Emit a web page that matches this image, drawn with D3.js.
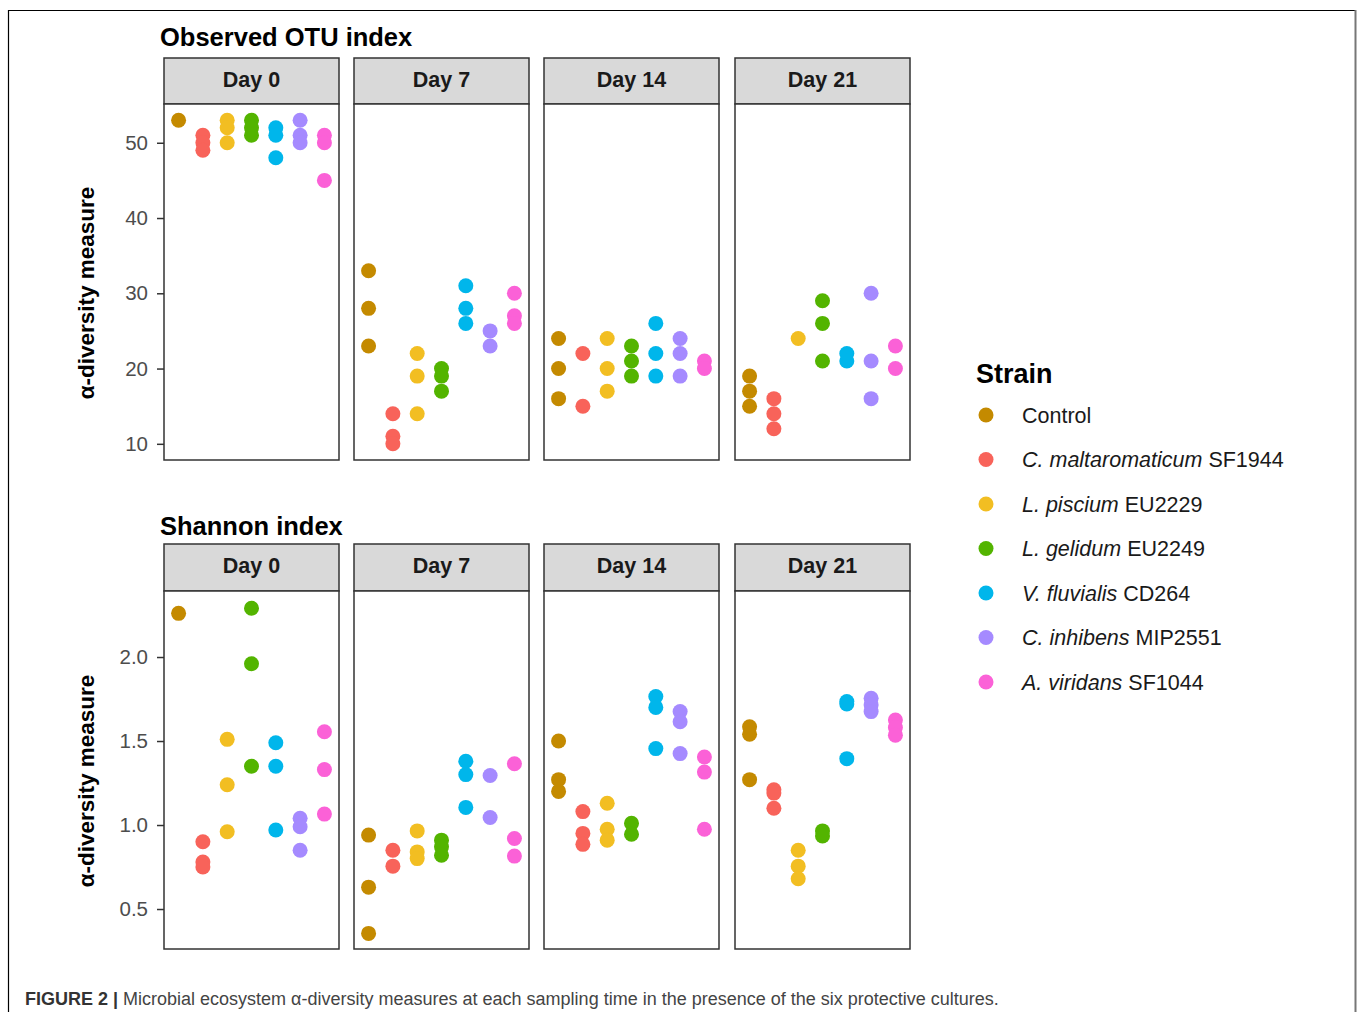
<!DOCTYPE html>
<html><head><meta charset="utf-8">
<script src="https://cdn.jsdelivr.net/npm/d3@7/dist/d3.min.js"></script>
<style>body{margin:0;background:#fff;}svg{display:block;font-family:"Liberation Sans",Arial,Helvetica,sans-serif;}</style>
</head><body>
<svg id="chart" width="1358" height="1012"></svg>
<script>
const days = ["Day 0", "Day 7", "Day 14", "Day 21"];
const strains = ["Control", "C. maltaromaticum SF1944", "L. piscium EU2229", "L. gelidum EU2249", "V. fluvialis CD264", "C. inhibens MIP2551", "A. viridans SF1044"];
const strainItalic = ["", "C. maltaromaticum", "L. piscium", "L. gelidum", "V. fluvialis", "C. inhibens", "A. viridans"];
const strainPlain = ["Control", " SF1944", " EU2229", " EU2249", " CD264", " MIP2551", " SF1044"];
const strainColors = ["#C48A00", "#F8635A", "#F2BE22", "#53B400", "#00B6EB", "#A58AFF", "#FB61D7"];

// Observed OTU index, per day: one array per strain
const otuDay0  = [[53], [51, 50, 49], [53, 52, 50], [53, 52, 51], [52, 51, 48], [53, 51, 50], [51, 50, 45]];
const otuDay7  = [[33, 28, 23], [14, 11, 10], [22, 19, 14], [20, 19, 17], [31, 28, 26], [25, 23], [30, 27, 26]];
const otuDay14 = [[24, 20, 16], [22, 15], [24, 20, 17], [23, 21, 19], [26, 22, 19], [24, 22, 19], [21, 20]];
const otuDay21 = [[19, 17, 15], [16, 14, 12], [24], [29, 26, 21], [22, 21], [30, 21, 16], [23, 20]];

// Shannon index, per day: one array per strain
const shDay0  = [[2.26], [0.90, 0.78, 0.75], [1.51, 1.24, 0.96], [2.29, 1.96, 1.35], [1.49, 1.35, 0.97], [1.04, 0.99, 0.85], [1.555, 1.33, 1.065]];
const shDay7  = [[0.94, 0.63, 0.355], [0.85, 0.755], [0.965, 0.84, 0.80], [0.91, 0.87, 0.82], [1.38, 1.30, 1.105], [1.295, 1.045], [1.365, 0.92, 0.815]];
const shDay14 = [[1.50, 1.27, 1.20], [1.08, 0.95, 0.885], [1.13, 0.975, 0.91], [1.01, 0.945], [1.765, 1.70, 1.455], [1.675, 1.615, 1.425], [1.405, 1.315, 0.975]];
const shDay21 = [[1.585, 1.54, 1.27], [1.21, 1.19, 1.10], [0.85, 0.755, 0.68], [0.965, 0.935], [1.735, 1.72, 1.395], [1.755, 1.715, 1.675], [1.625, 1.58, 1.535]];

const otuTicks = [10, 20, 30, 40, 50];
const shTicks = [0.5, 1.0, 1.5, 2.0];

const svg = d3.select("#chart");

// outer frame
svg.append("path").attr("d", "M8.5,1012 V10.5 H1355").attr("fill", "none").attr("stroke", "#000").attr("stroke-width", 1.2);
svg.append("line").attr("x1", 1355.5).attr("x2", 1355.5).attr("y1", 10).attr("y2", 1012).attr("stroke", "#777").attr("stroke-width", 2);

const panelLefts = [164, 354, 544, 735];
const panelW = 175;

function drawSection(cfg) {
  const g = svg.append("g");
  const y = d3.scaleLinear().domain(cfg.domain).range([cfg.bottom, cfg.top]);
  // title
  g.append("text").attr("x", 160).attr("y", cfg.titleY).attr("font-size", 25.5).attr("font-weight", "bold").attr("fill", "#000").text(cfg.title);
  // y-axis title
  g.append("text").attr("transform", `translate(94,${(cfg.top + cfg.bottom) / 2 + 11}) rotate(-90)`)
    .attr("text-anchor", "middle").attr("font-size", 22.5).attr("font-weight", "bold").attr("fill", "#000").text("α-diversity measure");
  // axis
  const axis = d3.axisLeft(y).tickValues(cfg.ticks).tickSize(7).tickPadding(9).tickFormat(cfg.fmt);
  const ag = g.append("g").attr("transform", `translate(${panelLefts[0]},0)`).call(axis);
  ag.select(".domain").remove();
  ag.selectAll(".tick line").attr("stroke", "#333").attr("stroke-width", 1.5);
  ag.selectAll(".tick text").attr("font-size", 20.5).attr("fill", "#4d4d4d").attr("font-family", "'Liberation Sans',Arial,sans-serif");

  days.forEach((d, i) => {
    const x0 = panelLefts[i];
    const x = d3.scalePoint().domain(strains).range([x0, x0 + panelW]).padding(0.6);
    // strip
    g.append("rect").attr("x", x0).attr("y", cfg.stripTop).attr("width", panelW).attr("height", cfg.top - cfg.stripTop)
      .attr("fill", "#d9d9d9").attr("stroke", "#333").attr("stroke-width", 1.5);
    g.append("text").attr("x", x0 + panelW / 2).attr("y", cfg.stripTop + 28.5).attr("text-anchor", "middle")
      .attr("font-size", 21.5).attr("font-weight", "bold").attr("fill", "#1a1a1a").text(d);
    // panel
    g.append("rect").attr("x", x0).attr("y", cfg.top).attr("width", panelW).attr("height", cfg.bottom - cfg.top)
      .attr("fill", "#fff").attr("stroke", "#333").attr("stroke-width", 1.5);
    const pts = [];
    cfg.data[i].forEach((vals, s) => vals.forEach(v => pts.push({ s, v })));
    g.append("g").selectAll("circle").data(pts).join("circle")
      .attr("cx", p => x(strains[p.s])).attr("cy", p => y(p.v)).attr("r", 7.5)
      .attr("fill", p => strainColors[p.s]);
  });
}

drawSection({
  title: "Observed OTU index", titleY: 46, stripTop: 58, top: 104, bottom: 460,
  domain: [7.85, 55.15], ticks: otuTicks, fmt: d3.format("d"),
  data: [otuDay0, otuDay7, otuDay14, otuDay21]
});
drawSection({
  title: "Shannon index", titleY: 535, stripTop: 544, top: 591, bottom: 949,
  domain: [0.262, 2.393], ticks: shTicks, fmt: d3.format(".1f"),
  data: [shDay0, shDay7, shDay14, shDay21]
});

// legend
const lg = svg.append("g");
lg.append("text").attr("x", 976).attr("y", 383).attr("font-size", 27).attr("font-weight", "bold").attr("fill", "#000").text("Strain");
strains.forEach((s, i) => {
  const cy = 415 + i * 44.5;
  lg.append("circle").attr("cx", 986).attr("cy", cy).attr("r", 7.5).attr("fill", strainColors[i]);
  const t = lg.append("text").attr("x", 1022).attr("y", cy + 7.5).attr("font-size", 21.5).attr("fill", "#1a1a1a");
  if (strainItalic[i]) t.append("tspan").attr("font-style", "italic").text(strainItalic[i]);
  t.append("tspan").text(strainPlain[i]);
});

// caption
const cap = svg.append("text").attr("x", 25).attr("y", 1005).attr("font-size", 18)
  .attr("font-family", "'Liberation Sans',Arial,sans-serif").attr("fill", "#333");
cap.append("tspan").attr("font-weight", "bold").attr("fill", "#333").text("FIGURE 2 |");
cap.append("tspan").attr("fill", "#444").text(" Microbial ecosystem α-diversity measures at each sampling time in the presence of the six protective cultures.");
</script>
</body></html>
